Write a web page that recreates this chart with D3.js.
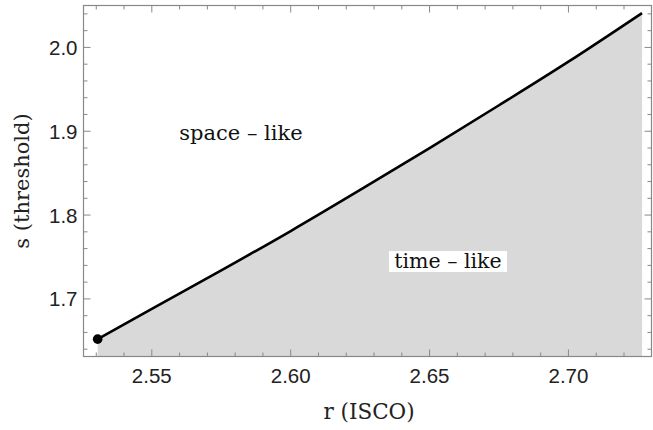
<!DOCTYPE html>
<html><head><meta charset="utf-8">
<script src="https://cdn.jsdelivr.net/npm/d3@7"></script>
<style>body{margin:0;background:#fff}svg{display:block}</style>
</head><body>
<script>
const rValues = [2.5305, 2.55, 2.575, 2.60, 2.625, 2.65, 2.675, 2.70, 2.7265];
const sValues = [1.652, 1.688, 1.734, 1.781, 1.830, 1.880, 1.931, 1.983, 2.041];
const xTicks = [2.55, 2.60, 2.65, 2.70];
const yTicks = [1.7, 1.8, 1.9, 2.0];
const xLabel = "r (ISCO)";
const yLabel = "s (threshold)";
const regionLabels = ["space \u2013 like", "time \u2013 like"];

const W = 653, H = 430;
const m = {left: 83.5, right: 1.5, top: 5.5, bottom: 73.5};
const svg = d3.select("body").append("svg").attr("width", W).attr("height", H);
const x = d3.scaleLinear().domain([2.5254, 2.7299]).range([m.left, W - m.right]);
const y = d3.scaleLinear().domain([1.6313, 2.05]).range([H - m.bottom, m.top]);
const data = rValues.map((r, i) => ({r, s: sValues[i]}));

svg.append("path").datum(data)
  .attr("fill", "#d9d9d9")
  .attr("d", d3.area().x(d => x(d.r)).y0(y.range()[0]).y1(d => y(d.s)).curve(d3.curveMonotoneX));

svg.append("path").datum(data)
  .attr("fill", "none").attr("stroke", "#000").attr("stroke-width", 2.6)
  .attr("d", d3.line().x(d => x(d.r)).y(d => y(d.s)).curve(d3.curveMonotoneX));
svg.append("circle").attr("cx", x(rValues[0])).attr("cy", y(sValues[0])).attr("r", 4.8).attr("fill", "#000");

const fc = "#888";
svg.append("rect").attr("x", m.left).attr("y", m.top)
  .attr("width", W - m.left - m.right).attr("height", H - m.top - m.bottom)
  .attr("fill", "none").attr("stroke", fc).attr("stroke-width", 1.2);

const xMinor = d3.range(2.53, 2.7299, 0.01).filter(v => !xTicks.some(t => Math.abs(t - v) < 1e-6));
const yMinor = d3.range(1.64, 2.05, 0.02).filter(v => !yTicks.some(t => Math.abs(t - v) < 1e-6));
const g = svg.append("g").attr("stroke", fc).attr("stroke-width", 1);
const y0 = H - m.bottom, y1 = m.top, x0 = m.left, x1 = W - m.right;
function xt(v, len) {
  g.append("line").attr("x1", x(v)).attr("x2", x(v)).attr("y1", y0).attr("y2", y0 - len);
  g.append("line").attr("x1", x(v)).attr("x2", x(v)).attr("y1", y1).attr("y2", y1 + len);
}
function yt(v, len) {
  g.append("line").attr("y1", y(v)).attr("y2", y(v)).attr("x1", x0).attr("x2", x0 + len);
  g.append("line").attr("y1", y(v)).attr("y2", y(v)).attr("x1", x1).attr("x2", x1 - len);
}
xTicks.forEach(v => xt(v, 7)); xMinor.forEach(v => xt(v, 4));
yTicks.forEach(v => yt(v, 7)); yMinor.forEach(v => yt(v, 4));

const tf = "Liberation Sans, Arial, sans-serif";
svg.selectAll(".xl").data(xTicks).enter().append("text")
  .attr("x", d => x(d)).attr("y", y0 + 26).attr("text-anchor", "middle")
  .attr("font-family", tf).attr("font-size", 20.5).attr("fill", "#222")
  .text(d => d3.format(".2f")(d));
svg.selectAll(".yl").data(yTicks).enter().append("text")
  .attr("x", x0 - 6).attr("y", d => y(d) + 7.5).attr("text-anchor", "end")
  .attr("font-family", tf).attr("font-size", 20.5).attr("fill", "#222")
  .text(d => d3.format(".1f")(d));

const sf = "'DejaVu Serif', serif";
svg.append("text").attr("x", 369).attr("y", 419).attr("text-anchor", "middle")
  .attr("font-family", sf).attr("font-size", 21.5).attr("fill", "#222").text(xLabel);
svg.append("text").attr("transform", `translate(29,${(y0 + y1) / 2}) rotate(-90)`)
  .attr("text-anchor", "middle")
  .attr("font-family", sf).attr("font-size", 21).attr("fill", "#222").text(yLabel);

svg.append("text").attr("x", 241).attr("y", 140).attr("text-anchor", "middle")
  .attr("font-family", sf).attr("font-size", 21).attr("fill", "#111").text(regionLabels[0]);
svg.append("rect").attr("x", 389).attr("y", 251).attr("width", 118).attr("height", 21).attr("fill", "#fff");
svg.append("text").attr("x", 448).attr("y", 268).attr("text-anchor", "middle")
  .attr("font-family", sf).attr("font-size", 20.5).attr("fill", "#111").text(regionLabels[1]);
</script>
</body></html>
